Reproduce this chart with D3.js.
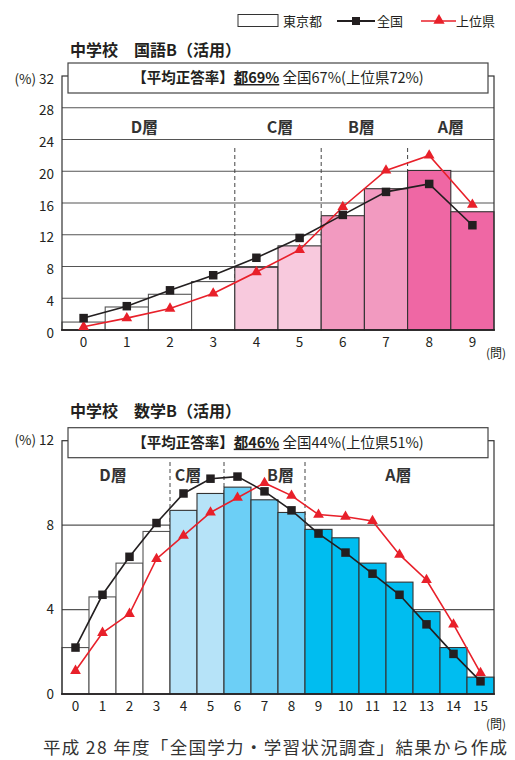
<!DOCTYPE html>
<html>
<head>
<meta charset="utf-8">
<script src="https://cdn.jsdelivr.net/npm/d3@7"></script>
<style>
  body { margin: 0; background: #fff; }
  svg { font-family: "Noto Sans CJK JP", "Noto Sans", sans-serif; }
</style>
</head>
<body>
<div id="app"></div>
<script>
// ---------- data ----------
const kokugoQ = ["0", "1", "2", "3", "4", "5", "6", "7", "8", "9"];
const kokugoTokyo = [1.0, 2.9, 4.5, 6.1, 7.9, 10.6, 14.4, 17.8, 20.1, 14.9];
const kokugoNation = [1.5, 3.0, 5.0, 6.9, 9.1, 11.6, 14.5, 17.4, 18.4, 13.2];
const kokugoTop = [0.4, 1.5, 2.7, 4.6, 7.3, 10.1, 15.5, 20.1, 22.0, 15.8];
const kokugoTicks = [0, 4, 8, 12, 16, 20, 24, 28, 32];
const kokugoTiers = [["D層", "0", "3"], ["C層", "4", "5"], ["B層", "6", "7"], ["A層", "8", "9"]];

const sugakuQ = ["0", "1", "2", "3", "4", "5", "6", "7", "8", "9", "10", "11", "12", "13", "14", "15"];
const sugakuTokyo = [2.2, 4.6, 6.2, 7.7, 8.7, 9.5, 9.8, 9.2, 8.6, 7.8, 7.4, 6.2, 5.3, 3.9, 2.2, 0.8];
const sugakuNation = [2.2, 4.7, 6.5, 8.1, 9.5, 10.2, 10.3, 9.6, 8.7, 7.6, 6.7, 5.7, 4.7, 3.3, 1.9, 0.6];
const sugakuTop = [1.1, 2.9, 3.8, 6.4, 7.5, 8.6, 9.3, 10.0, 9.4, 8.5, 8.4, 8.2, 6.6, 5.4, 3.3, 1.0];
const sugakuTicks = [0, 4, 8, 12];
const sugakuTiers = [["D層", "0", "3"], ["C層", "4", "5"], ["B層", "6", "8"], ["A層", "9", "15"]];

const pinks = ["#ffffff", "#f8c9dd", "#f29ac0", "#ef67a4"];
const blues = ["#ffffff", "#b6e3f8", "#6ccff6", "#00bdf0"];

const w = 515;
const h = 760;

const svg = d3.select('#app')
  .append('svg')
  .attr('width', w)
  .attr('height', h)
  .style('display', 'block');

//////////LEGEND//////////
const legend = svg.append('g').attr('font-size', 13).attr('fill', '#231f20');
legend.append('rect').attr('x', 238).attr('y', 14.5).attr('width', 40).attr('height', 12)
  .attr('fill', '#fff').attr('stroke', '#333').attr('stroke-width', 1);
legend.append('text').attr('x', 283).attr('y', 25.5).text('東京都');
legend.append('line').attr('x1', 337).attr('x2', 375).attr('y1', 21).attr('y2', 21)
  .attr('stroke', '#231f20').attr('stroke-width', 1.8);
legend.append('rect').attr('x', 352).attr('y', 17).attr('width', 8).attr('height', 8).attr('fill', '#231f20');
legend.append('text').attr('x', 377).attr('y', 25.5).text('全国');
legend.append('line').attr('x1', 421).attr('x2', 456).attr('y1', 21).attr('y2', 21)
  .attr('stroke', '#e8202a').attr('stroke-width', 1.5);
legend.append('path').attr('transform', 'translate(439,20.5)')
  .attr('d', d3.symbol().type(d3.symbolTriangle).size(55)).attr('fill', '#e8202a');
legend.append('text').attr('x', 456).attr('y', 25.5).text('上位県');

//////////CHART//////////
function drawChart(cfg) {
  const g = svg.append('g');

  const x = d3.scaleBand().domain(cfg.cats).range([62, 494]).padding(0);
  const y = d3.scaleLinear().domain([0, cfg.ticks[cfg.ticks.length - 1]]).range(cfg.yRange);
  const top = y.range()[1];
  const base = y.range()[0];

  // title
  g.append('text')
    .attr('x', 70).attr('y', cfg.titleY)
    .attr('font-size', 16).attr('font-weight', 'bold').attr('fill', '#231f20')
    .text(cfg.title);

  // gridlines
  g.append('g').selectAll('line')
    .data(cfg.ticks.slice(1, -1))
    .join('line')
    .attr('x1', 62).attr('x2', 494)
    .attr('y1', (d) => y(d)).attr('y2', (d) => y(d))
    .attr('stroke', '#555').attr('stroke-width', 1.2);

  // tier dividers
  g.append('g').selectAll('line')
    .data(cfg.tiers.slice(1))
    .join('line')
    .attr('x1', (d) => x(d[1])).attr('x2', (d) => x(d[1]))
    .attr('y1', cfg.dashTop).attr('y2', base)
    .attr('stroke', '#444').attr('stroke-width', 1)
    .attr('stroke-dasharray', '4,3');

  // tier labels
  g.append('g').selectAll('text')
    .data(cfg.tiers)
    .join('text')
    .attr('x', (d) => (x(d[1]) + x(d[2]) + x.bandwidth()) / 2 + (cfg.tierShift[d[0]] || 0))
    .attr('y', cfg.tierY)
    .attr('text-anchor', 'middle')
    .attr('font-size', 16).attr('font-weight', 'bold').attr('fill', '#333')
    .text((d) => d[0]);

  // bars
  const tierOf = (c) => cfg.tiers.findIndex((t) => +c >= +t[1] && +c <= +t[2]);
  g.append('g').selectAll('rect')
    .data(cfg.tokyo)
    .join('rect')
    .attr('x', (d, i) => x(cfg.cats[i]))
    .attr('width', x.bandwidth())
    .attr('y', (d) => y(d))
    .attr('height', (d) => base - y(d))
    .attr('fill', (d, i) => cfg.colors[3 - tierOf(cfg.cats[i])])
    .attr('stroke', (d, i) => tierOf(cfg.cats[i]) === 0 ? '#555' : '#333')
    .attr('stroke-width', 1.1);

  // frame
  g.append('rect')
    .attr('x', 62).attr('y', top)
    .attr('width', 432).attr('height', base - top)
    .attr('fill', 'none').attr('stroke', '#333').attr('stroke-width', 1.2);
  g.append('line').attr('x1', 61).attr('x2', 495).attr('y1', base).attr('y2', base)
    .attr('stroke', '#231f20').attr('stroke-width', 1.6);

  // average box
  g.append('rect')
    .attr('x', 68).attr('y', top - 13)
    .attr('width', 420).attr('height', 30)
    .attr('fill', '#fff').attr('stroke', '#444').attr('stroke-width', 1.2);
  const bt = g.append('text')
    .attr('x', 278).attr('y', top + 7)
    .attr('text-anchor', 'middle')
    .attr('font-size', 14.5).attr('fill', '#231f20');
  bt.append('tspan').attr('font-weight', 'bold').text('【平均正答率】');
  bt.append('tspan').attr('font-weight', 'bold').style('text-decoration', 'underline').text(cfg.tokyoAvg);
  bt.append('tspan').text(' ' + cfg.restAvg);

  // y tick labels
  g.append('g').selectAll('text')
    .data(cfg.ticks)
    .join('text')
    .attr('x', 54)
    .attr('y', (d) => y(d) + cfg.tickShift)
    .attr('dy', '0.35em')
    .attr('text-anchor', 'end')
    .attr('font-size', 13.5).attr('fill', '#231f20')
    .text((d, i) => i === cfg.ticks.length - 1 ? '(%) ' + d : d);

  // x tick labels
  g.append('g').selectAll('text')
    .data(cfg.cats)
    .join('text')
    .attr('x', (d) => x(d) + x.bandwidth() / 2)
    .attr('y', base + 17)
    .attr('text-anchor', 'middle')
    .attr('font-size', 13.5).attr('fill', '#231f20')
    .text((d) => d);
  g.append('text')
    .attr('x', 496).attr('y', base + cfg.unitShift)
    .attr('text-anchor', 'middle')
    .attr('font-size', 12).attr('fill', '#231f20')
    .text('(問)');

  // lines
  const line = d3.line()
    .x((d, i) => x(cfg.cats[i]) + x.bandwidth() / 2)
    .y((d) => y(d));

  g.append('path').datum(cfg.top)
    .attr('d', line).attr('fill', 'none')
    .attr('stroke', '#e8202a').attr('stroke-width', 1.6);
  g.append('g').selectAll('path')
    .data(cfg.top)
    .join('path')
    .attr('transform', (d, i) => `translate(${x(cfg.cats[i]) + x.bandwidth() / 2},${y(d)})`)
    .attr('d', d3.symbol().type(d3.symbolTriangle).size(50))
    .attr('fill', '#e8202a');

  g.append('path').datum(cfg.nation)
    .attr('d', line).attr('fill', 'none')
    .attr('stroke', '#231f20').attr('stroke-width', 1.6);
  g.append('g').selectAll('rect')
    .data(cfg.nation)
    .join('rect')
    .attr('x', (d, i) => x(cfg.cats[i]) + x.bandwidth() / 2 - 4.25)
    .attr('y', (d) => y(d) - 4.25)
    .attr('width', 8.5).attr('height', 8.5)
    .attr('fill', '#231f20');
}

drawChart({
  title: '中学校　国語B（活用）',
  titleY: 56,
  cats: kokugoQ,
  tokyo: kokugoTokyo,
  nation: kokugoNation,
  top: kokugoTop,
  ticks: kokugoTicks,
  tiers: kokugoTiers,
  colors: [pinks[3], pinks[2], pinks[1], pinks[0]],
  yRange: [330, 76],
  dashTop: 148,
  tierY: 133,
  tierShift: { 'D層': -4, 'C層': 2, 'B層': -3, 'A層': 0 },
  tickShift: 3,
  unitShift: 28,
  tokyoAvg: '都69%',
  restAvg: '全国67%(上位県72%)'
});

drawChart({
  title: '中学校　数学B（活用）',
  titleY: 417,
  cats: sugakuQ,
  tokyo: sugakuTokyo,
  nation: sugakuNation,
  top: sugakuTop,
  ticks: sugakuTicks,
  tiers: sugakuTiers,
  colors: [blues[3], blues[2], blues[1], blues[0]],
  yRange: [694, 440.7],
  dashTop: 462,
  tierY: 481,
  tierShift: { 'D層': -3, 'C層': -9, 'B層': 16, 'A層': -1 },
  tickShift: 0,
  unitShift: 35,
  tokyoAvg: '都46%',
  restAvg: '全国44%(上位県51%)'
});

// footer
svg.append('text')
  .attr('x', 275).attr('y', 754)
  .attr('text-anchor', 'middle')
  .attr('font-size', 17.5).attr('fill', '#333')
  .attr('textLength', 464).attr('lengthAdjust', 'spacing')
  .text('平成 28 年度「全国学力・学習状況調査」結果から作成');
</script>
</body>
</html>
